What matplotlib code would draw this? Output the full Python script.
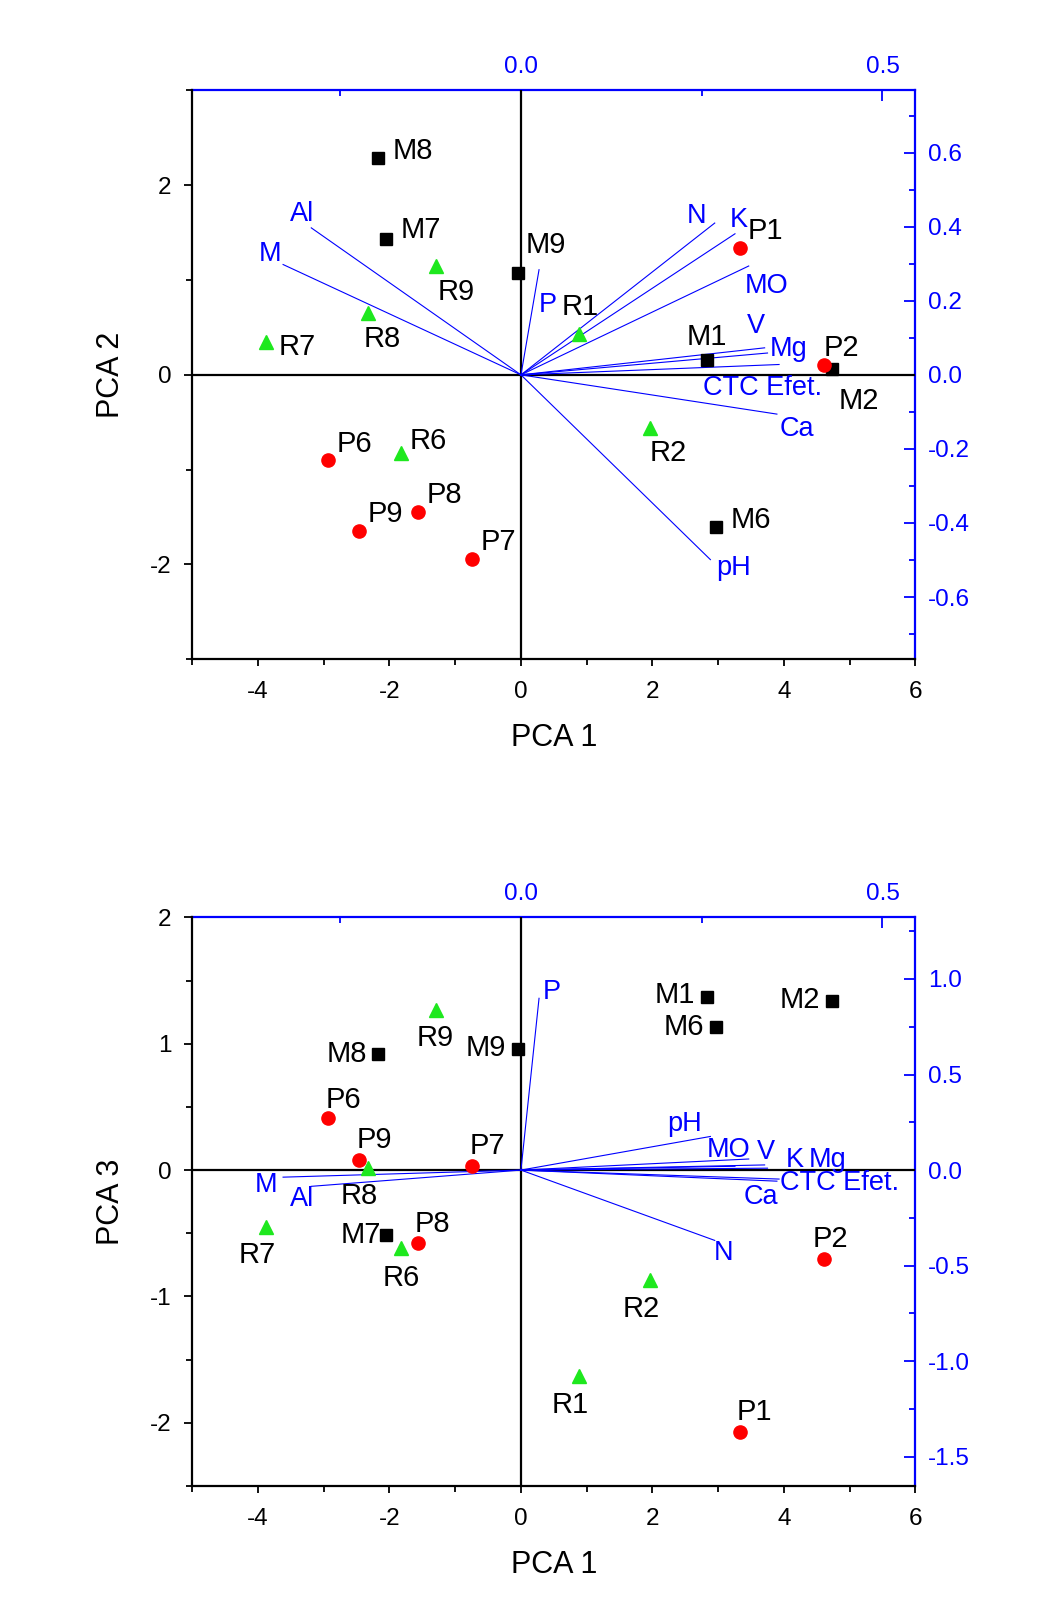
import numpy as np
import matplotlib.pyplot as plt
from matplotlib.ticker import FormatStrFormatter, MultipleLocator, FixedLocator

plt.rcParams['font.family'] = ['Liberation Sans', 'DejaVu Sans']
plt.rcParams['axes.unicode_minus'] = False

# scores
samples = ['M1', 'M2', 'M6', 'M7', 'M8', 'M9',
           'P1', 'P2', 'P6', 'P7', 'P8', 'P9',
           'R1', 'R2', 'R6', 'R7', 'R8', 'R9']
pc1 = [2.83, 4.73, 2.97, -2.05, -2.18, -0.05,
       3.33, 4.61, -2.93, -0.74, -1.56, -2.46,
       0.89, 1.96, -1.83, -3.88, -2.33, -1.30]
pc2 = [0.16, 0.06, -1.61, 1.43, 2.29, 1.07,
       1.34, 0.10, -0.90, -1.94, -1.45, -1.65,
       0.43, -0.56, -0.82, 0.35, 0.65, 1.15]
pc3 = [1.37, 1.34, 1.13, -0.51, 0.92, 0.96,
       -2.07, -0.70, 0.41, 0.03, -0.58, 0.08,
       -1.63, -0.87, -0.62, -0.45, 0.02, 1.27]

# loadings
variables = ['Al', 'M', 'P', 'N', 'K', 'MO', 'V', 'Mg', 'CTC Efet.', 'Ca', 'pH']
load1 = [-0.290, -0.329, 0.025, 0.268, 0.296, 0.315, 0.337, 0.341, 0.357, 0.354, 0.262]
load2 = [0.397, 0.298, 0.284, 0.410, 0.381, 0.294, 0.073, 0.059, 0.028, -0.106, -0.499]
load3 = [-0.085, -0.037, 0.899, -0.368, 0.020, 0.058, 0.027, 0.010, -0.047, -0.058, 0.176]

# label offsets (pixels in the reference, x right / y down)
lab_top = {'M8': (34, -7), 'M7': (34, -9), 'M9': (27, -28), 'M1': (0, -22),
           'M2': (26, 31), 'M6': (34, -7), 'P1': (25, -16), 'P2': (17, -17),
           'P6': (25, -16), 'P8': (25, -17), 'P9': (25, -17), 'P7': (25, -16),
           'R9': (20, 25), 'R8': (14, 25), 'R7': (30, 5), 'R1': (1, -26),
           'R6': (27, -11), 'R2': (18, 24)}
lab_bot = {'M1': (-31, -2), 'M2': (-31, -1), 'M6': (-31, 0), 'M9': (-31, -1),
           'M8': (-30, 0), 'M7': (-25, 0), 'P6': (15, -18), 'P9': (15, -19),
           'P7': (15, -20), 'P8': (14, -19), 'P2': (6, -19), 'P1': (14, -19),
           'R9': (0, 28), 'R8': (-8, 28), 'R7': (-8, 27), 'R6': (1, 29),
           'R2': (-8, 28), 'R1': (-9, 28)}
vlab_top = {'Al': (-9, -13), 'M': (-13, -10), 'P': (8, 34), 'N': (-18, -7),
            'K': (4, -13), 'MO': (17, 19), 'V': (-8, -21), 'Mg': (21, -4),
            'CTC Efet.': (-16, 23), 'Ca': (19, 14), 'pH': (23, 8)}
vlab_bot = {'Al': (-9, 12), 'M': (-17, 8), 'P': (12, -6), 'N': (9, 12),
            'K': (58, -6), 'MO': (-20, -9), 'V': (1, -13), 'Mg': (58, -8),
            'CTC Efet.': (59, 4), 'Ca': (-16, 15), 'pH': (-25, -12)}

styles = {'M': dict(marker='s', color='black', ms=8),
          'P': dict(marker='o', color='#ff0000', ms=9.5),
          'R': dict(marker='^', color='#1ee81e', ms=10.5)}

PX = 0.7404  # reference px -> points
BLUE = '#0000ff'
TICK_FS = 17.5


def panel(ax, ys, loads, ylim, kx, ky, ymaj, ymin, lticks, lminor, ylabel, labs, vlabs):
    ax.set_xlim(-5, 6)
    ax.set_ylim(*ylim)
    ax.axhline(0, color='black', lw=1.6, zorder=1)
    ax.axvline(0, color='black', lw=1.6, zorder=1)

    for lx, ly, v in zip(load1, loads, variables):
        ax.plot([0, lx * kx], [0, ly * ky], color=BLUE, lw=0.8, zorder=2)
        dx, dy = vlabs[v]
        ax.annotate(v, (lx * kx, ly * ky), xytext=(dx * PX, -dy * PX),
                    textcoords='offset points', ha='center', va='center',
                    color=BLUE, fontsize=19.5)

    for x, y, s in zip(pc1, ys, samples):
        ax.plot(x, y, linestyle='none', zorder=3, **styles[s[0]])
        dx, dy = labs[s]
        ax.annotate(s, (x, y), xytext=(dx * PX, -dy * PX),
                    textcoords='offset points', ha='center', va='center',
                    color='black', fontsize=21)

    ax.spines['top'].set_visible(False)
    ax.spines['right'].set_visible(False)
    for sp in ['left', 'bottom']:
        ax.spines[sp].set_linewidth(1.6)
    ax.xaxis.set_major_locator(MultipleLocator(2))
    ax.xaxis.set_minor_locator(MultipleLocator(1))
    ax.yaxis.set_major_locator(MultipleLocator(ymaj))
    ax.yaxis.set_minor_locator(MultipleLocator(ymin))
    ax.tick_params(which='both', direction='out', labelsize=TICK_FS, width=1.3)
    ax.tick_params(axis='x', which='major', length=5, pad=11)
    ax.tick_params(axis='x', which='minor', length=4)
    ax.tick_params(axis='y', which='major', length=6, pad=9)
    ax.tick_params(axis='y', which='minor', length=4)
    ax.set_xlabel('PCA 1', fontsize=22, labelpad=14)
    ax.set_ylabel(ylabel, fontsize=22, labelpad=17)

    secx = ax.secondary_xaxis('top', functions=(lambda v: v / kx, lambda v: v * kx))
    secx.xaxis.set_major_locator(FixedLocator([0.0, 0.5]))
    secx.xaxis.set_minor_locator(FixedLocator([-0.25, 0.25]))
    secx.xaxis.set_major_formatter(FormatStrFormatter('%.1f'))
    secx.tick_params(which='both', direction='in', colors=BLUE, labelsize=TICK_FS, width=1.3)
    secx.tick_params(which='major', length=8, pad=9)
    secx.tick_params(which='minor', length=4)
    secx.spines['top'].set_color(BLUE)
    secx.spines['top'].set_linewidth(1.6)

    secy = ax.secondary_yaxis('right', functions=(lambda v: v / ky, lambda v: v * ky))
    secy.yaxis.set_major_locator(FixedLocator(lticks))
    secy.yaxis.set_minor_locator(FixedLocator(lminor))
    secy.yaxis.set_major_formatter(FormatStrFormatter('%.1f'))
    secy.tick_params(which='both', direction='in', colors=BLUE, labelsize=TICK_FS, width=1.3)
    secy.tick_params(which='major', length=8, pad=9)
    secy.tick_params(which='minor', length=4)
    secy.spines['right'].set_color(BLUE)
    secy.spines['right'].set_linewidth(1.6)


fig = plt.figure(figsize=(10.52, 16.13), dpi=100)
ax1 = fig.add_axes([0.1828, 0.5913, 0.6873, 0.3526])
ax2 = fig.add_axes([0.1828, 0.0787, 0.6873, 0.3526])

panel(ax1, pc2, load2, (-3, 3), 11, 3 / 0.768, 2, 1,
      [-0.6, -0.4, -0.2, 0.0, 0.2, 0.4, 0.6], [-0.7, -0.5, -0.3, -0.1, 0.1, 0.3, 0.5, 0.7],
      'PCA 2', lab_top, vlab_top)
panel(ax2, pc3, load3, (-2.5, 2), 11, 1.512, 1, 0.5,
      [-1.5, -1.0, -0.5, 0.0, 0.5, 1.0], [-1.25, -0.75, -0.25, 0.25, 0.75, 1.25],
      'PCA 3', lab_bot, vlab_bot)

fig.savefig('out.png', dpi=100)
